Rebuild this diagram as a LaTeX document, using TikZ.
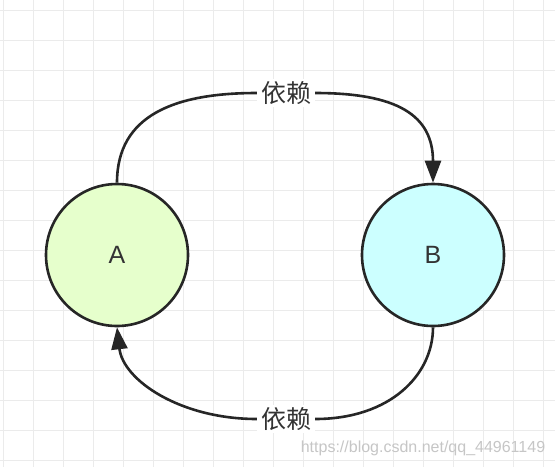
\documentclass[tikz,border=0pt]{standalone}
\usepackage{fontspec}
\setmainfont{Liberation Sans}
\newfontfamily\cjk{Noto Sans CJK SC}
\usepackage{xcolor}
\usetikzlibrary{arrows.meta}
\definecolor{linedark}{HTML}{262626}
\definecolor{textdark}{HTML}{333333}
\definecolor{greenfill}{HTML}{E6FFCC}
\definecolor{cyanfill}{HTML}{CCFFFF}
\definecolor{gridgray}{HTML}{EBEBEB}

\begin{document}
\begin{tikzpicture}[x=1pt,y=-1pt,
            circ/.style={shape=circle, draw=linedark, line width=2.6pt, minimum size=142pt,
                         text=textdark, font=\fontsize{25}{30}\selectfont},
            lbl/.style={fill=white, inner xsep=4pt, inner ysep=2pt, text=textdark,
                        font=\cjk\fontsize{25}{30}\selectfont},
            edge/.style={draw=linedark, line width=2.6pt},
            head/.style={-{Triangle[length=22pt,width=16pt]}}]
        \useasboundingbox[fill=white] (0,0) rectangle (555,467);
        % grid
        \foreach \gx in {3,33,...,543}
            \draw[gridgray, line width=1pt] (\gx,0) -- (\gx,467);
        \foreach \gy in {10,40,...,460}
            \draw[gridgray, line width=1pt] (0,\gy) -- (555,\gy);

        \node[circ, fill=greenfill] (A) at (117,255) {A};
        \node[circ, fill=cyanfill] (B) at (433,255) {B};

        \node[lbl] (top) at (286,93) {依赖};
        \node[lbl] (bot) at (286,419) {依赖};

        \draw[edge] (A.north) .. controls (117,115) and (175,93) .. (top.west);
        \draw[edge,head] (top.east) .. controls (397,93) and (433,115) .. (B.north);

        \draw[edge] (B.south) .. controls (433,375) and (390,419) .. (bot.east);
        \draw[edge,head] (bot.west) .. controls (180,419) and (123,380) .. (A.south);

        \node[text=gray!45, font=\fontsize{16}{19}\selectfont] (mark) at (423,448) {https://blog.csdn.net/qq\_44961149};
    \end{tikzpicture}
\end{document}
